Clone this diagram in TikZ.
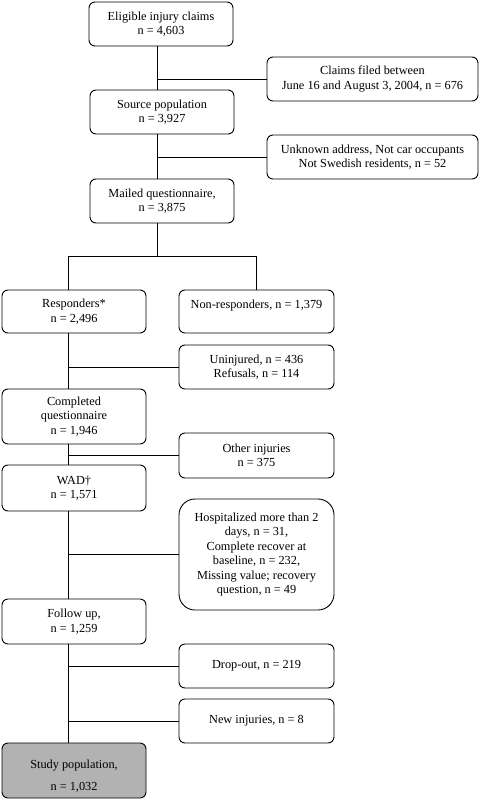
\documentclass[tikz,border=0pt]{standalone}
\usepackage{fontspec}
\setmainfont{Liberation Serif}
\begin{document}
\begin{tikzpicture}[x=1pt,y=-1pt,line width=0.9pt,
		box/.style={draw,rounded corners=6pt,align=center,inner sep=0pt,
			font=\fontsize{12.3pt}{14.5pt}\selectfont,minimum height=44pt},
		mainbox/.style={box,minimum width=144pt},
		sidebox/.style={box,minimum width=155pt},
		widebox/.style={box,minimum width=211pt}]
		\useasboundingbox (0,0) rectangle (479,800);
		\coordinate (top) at (157,0);
		\coordinate (low) at (68,0);
		\coordinate (split) at (157,256);
		\node[mainbox] (elig) at (161,24) {Eligible injury claims\\n = 4,603};
		\node[widebox] (claims) at (372.5,79) {Claims filed between\\June 16 and August 3, 2004, n = 676};
		\node[mainbox] (source) at (162,112) {Source population\\n = 3,927};
		\node[widebox] (unknown) at (372.5,157) {Unknown address, Not car occupants\\Not Swedish residents, n = 52};
		\node[mainbox] (mailed) at (162,201) {Mailed questionnaire,\\n = 3,875};
		\node[mainbox,minimum height=43pt] (resp) at (74,311.5) {Responders*\\n = 2,496};
		\node[sidebox,minimum height=43pt] (nonresp) at (256.5,311.5) {Non-responders, n = 1,379\\\mbox{}};
		\node[sidebox] (uninj) at (256.5,367) {Uninjured, n = 436\\Refusals, n = 114};
		\node[mainbox,minimum height=55pt] (compl) at (74,416.5) {Completed\\questionnaire\\n = 1,946};
		\node[sidebox,minimum height=45pt] (other) at (256.5,455.5) {Other injuries\\n = 375};
		\node[mainbox,minimum height=46pt] (wad) at (74,488) {WAD\textdagger\\n = 1,571};
		\node[sidebox,minimum height=111pt,rounded corners=16pt] (hosp) at (256.5,554.5) {Hospitalized more than 2\\days, n = 31,\\Complete recover at\\baseline, n = 232,\\Missing value; recovery\\question, n = 49};
		\node[mainbox,minimum height=45pt] (follow) at (74,621.5) {Follow up,\\n = 1,259};
		\node[sidebox] (drop) at (256.5,666) {Drop-out, n = 219};
		\node[sidebox] (newinj) at (256.5,721) {New injuries, n = 8};
		\node[mainbox,minimum height=55pt,fill=gray!60] (study) at (74,770.5) {\rule{0pt}{20pt}Study population,\\[7.5pt]n = 1,032};
		% top spine
		\draw (elig.south -| top) -- (source.north -| top);
		\draw (source.south -| top) -- (mailed.north -| top);
		\draw (claims.west) -- (claims.west -| top);
		\draw (unknown.west) -- (unknown.west -| top);
		\draw (mailed.south -| top) -- (split);
		\draw (resp.north -| low) |- (nonresp.north |- split) -- (nonresp.north);
		% lower spine
		\draw (resp.south -| low) -- (compl.north -| low);
		\draw (compl.south -| low) -- (wad.north -| low);
		\draw (wad.south -| low) -- (follow.north -| low);
		\draw (follow.south -| low) -- (study.north -| low);
		\draw (uninj.west) -- (uninj.west -| low);
		\draw (other.west) -- (other.west -| low);
		\draw (hosp.west) -- (hosp.west -| low);
		\draw (drop.west) -- (drop.west -| low);
		\draw (newinj.west) -- (newinj.west -| low);
	\end{tikzpicture}
\end{document}
